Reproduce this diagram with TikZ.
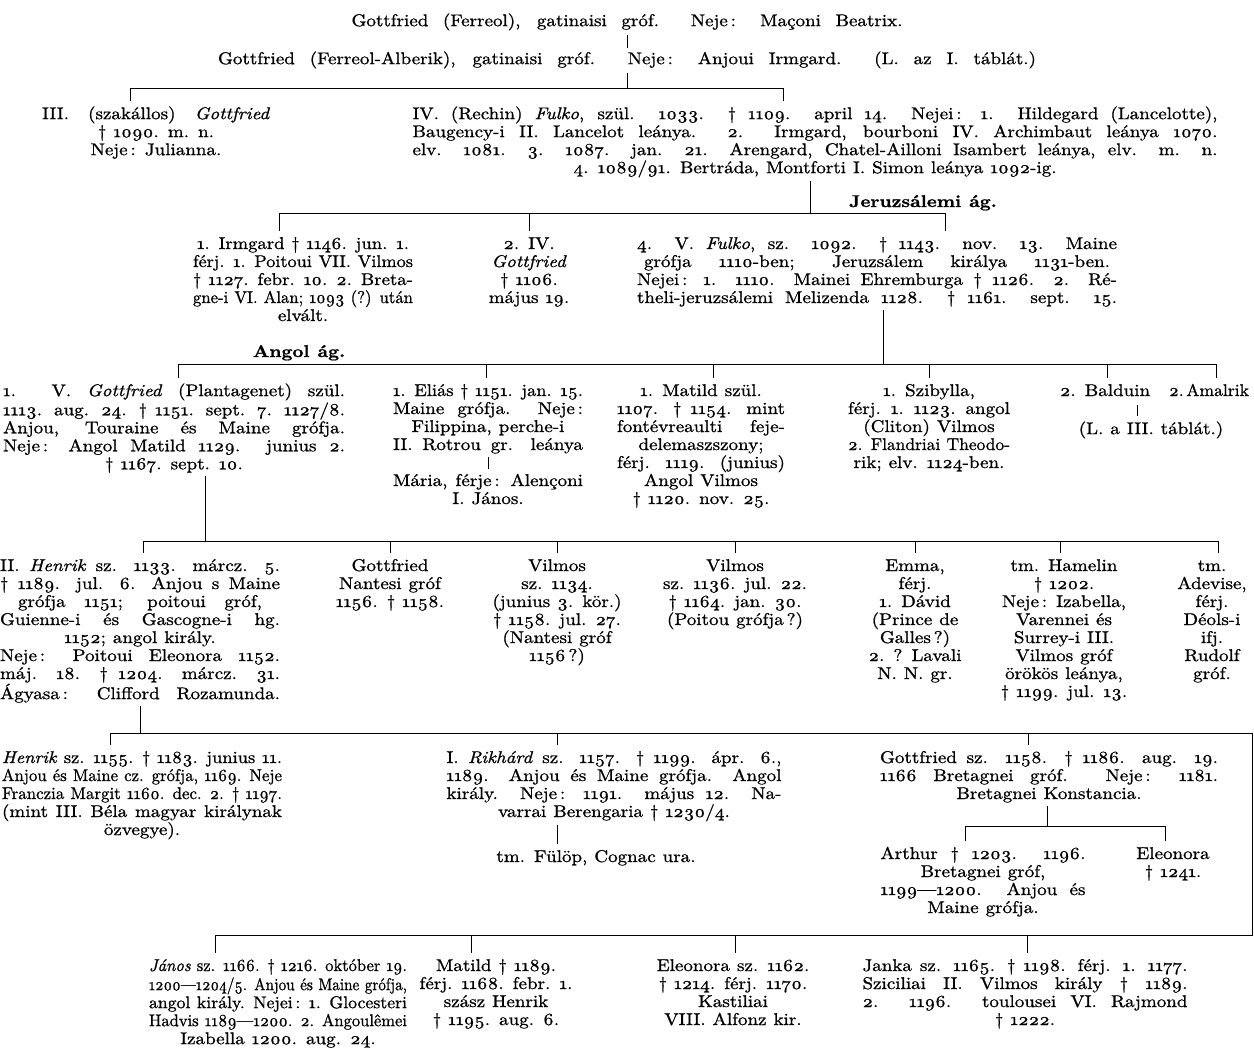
\documentclass[tikz,border=0pt]{standalone}
\usepackage{fontspec}
\usepackage{graphicx}
\setmainfont{lmroman10-regular.otf}[ItalicFont=lmroman10-italic.otf,BoldFont=lmroman10-bold.otf,BoldItalicFont=lmroman10-bolditalic.otf,Numbers=OldStyle,WordSpace=1.1,FakeStretch=1.12,FakeBold=1]
\newcommand\fs{\fontsize{17}{18}\selectfont}
\newsavebox\jlbox
\newcommand\jl[2]{\sbox\jlbox{#2}\ifdim\wd\jlbox>#1pt\relax\resizebox{#1pt}{\height}{\usebox\jlbox}\else\makebox[#1pt][s]{#2}\fi}
\begin{document}
\begin{tikzpicture}[x=1pt,y=-1pt,line width=0.8pt,
  blk/.style={align=center,inner sep=0pt,anchor=north,font=\fs},
  lbl/.style={inner sep=0pt,anchor=base,font=\fs\bfseries},
  tk/.style={shorten >=5pt},
  up/.style={shorten <=3pt}]
\fill[white] (0,0) rectangle (1254,1050);
\useasboundingbox (0,0) rectangle (1254,1050);

% ---- top
\node[blk] (g0) at (627,13) {\strut\jl{551}{Gottfried (Ferreol), gatinaisi gróf. Neje\,: Maçoni Beatrix.}};
\node[blk] (g1) at (627,51) {\strut\jl{818}{Gottfried (Ferreol-Alberik), gatinaisi gróf. Neje\,: Anjoui Irmgard. (L. az I. táblát.)}};
\draw[shorten <=3pt,shorten >=3pt] (g0.south) -- (g1.north);
\coordinate (j1) at (627,88);
\coordinate (a1) at (130,88);
\coordinate (b1) at (783,88);
\draw[up] (g1.south) -- (j1);
\draw (a1) -- (b1);

\node[blk] (n3) at (156,106) {\strut\jl{228}{III. (szakállos) \textit{Gottfried}}\\ † 1090. m. n.\\ Neje\,: Julianna.};
\node[blk] (n4) at (815,106) {\strut\jl{805}{IV. (Rechin) \textit{Fulko}, szül. 1033. † 1109. april 14. Nejei\,: 1. Hildegard (Lancelotte),}\\
\jl{805}{Baugency-i II. Lancelot leánya. 2. Irmgard, bourboni IV. Archimbaut leánya 1070.}\\
\jl{805}{elv. 1081. 3. 1087. jan. 21. Arengard, Chatel-Ailloni Isambert leánya, elv. m. n.}\\
4. 1089/91. Bertráda, Montforti I. Simon leánya 1092-ig.};
\draw[tk] (a1) -- (a1 |- n3.north);
\draw[tk] (b1) -- (b1 |- n4.north);

% ---- row 2
\coordinate (j2) at (810,213);
\coordinate (a2) at (279,213);
\coordinate (m2) at (529,213);
\coordinate (b2) at (945,213);
\draw[up] (j2 |- n4.south) -- (j2);
\draw (a2) -- (b2);
\node[lbl] (jer) at (923,207) {Jeruzsálemi ág.};

\node[blk] (irm) at (303,236) {\strut\jl{212}{1. Irmgard † 1146. jun. 1.}\\
\jl{220}{férj. 1. Poitoui VII. Vilmos}\\
\jl{220}{† 1127. febr. 10. 2. Breta-}\\
\jl{220}{gne-i VI. Alan; 1093 (?) után}\\
elvált.};
\node[blk] (g4) at (529,236) {\strut 2. IV.\\ \textit{Gottfried}\\ † 1106.\\ május 19.};
\node[blk] (fu5) at (877,236) {\strut\jl{480}{4. V. \textit{Fulko}, sz. 1092. † 1143. nov. 13. Maine}\\
\jl{466}{grófja 1110-ben; Jeruzsálem királya 1131-ben.}\\
\jl{480}{Nejei\,: 1. 1110. Mainei Ehremburga † 1126. 2. Ré-}\\
\jl{480}{theli-jeruzsálemi Melizenda 1128. † 1161. sept. 15.}};
\draw[tk] (a2) -- (a2 |- irm.north);
\draw[tk] (m2) -- (m2 |- g4.north);
\draw[tk] (b2) -- (b2 |- fu5.north);

% ---- row 3
\coordinate (j3) at (883,364);
\coordinate (a3) at (178,364);
\coordinate (e3) at (486,364);
\coordinate (f3) at (713,364);
\coordinate (s3) at (929,364);
\coordinate (h3) at (1107,364);
\coordinate (b3) at (1216,364);
\draw[up] (j3 |- fu5.south) -- (j3);
\draw (a3) -- (b3);
\node[lbl] (ang) at (299,357) {Angol ág.};

\node[blk] (gp) at (174,383) {\strut\jl{342}{1. V. \textit{Gottfried} (Plantagenet) szül.}\\
\jl{342}{1113. aug. 24. † 1151. sept. 7. 1127/8.}\\
\jl{342}{Anjou, Touraine és Maine grófja.}\\
\jl{342}{Neje\,: Angol Matild 1129. junius 2.}\\
† 1167. sept. 10.};
\node[blk] (el) at (488,383) {\strut\jl{190}{1. Eliás † 1151. jan. 15.}\\
\jl{190}{Maine grófja. Neje\,:}\\
Filippina, perche-i\\
\jl{190}{II. Rotrou gr. leánya}};
\node[blk] (ma) at (488,473) {\strut\jl{190}{Mária, férje\,: Alençoni}\\ I. János.};
\draw[shorten <=3pt,shorten >=4pt] (el.south) -- (ma.north);
\node[blk] (mt) at (701,383) {\strut 1. Matild szül.\\
\jl{168}{1107. † 1154. mint}\\
\jl{168}{fontévreaulti feje-}\\
delemaszszony;\\
\jl{168}{férj. 1119. (junius)}\\
Angol Vilmos\\
† 1120. nov. 25.};
\node[blk] (sz) at (929,383) {\strut 1. Szibylla,\\
\jl{162}{férj. 1. 1123. angol}\\
(Cliton) Vilmos\\
\jl{162}{2. Flandriai Theodo-}\\
rik; elv. 1124-ben.};
\node[blk] (ba) at (1105,383) {\strut 2. Balduin};
\node[blk] (am) at (1209,383) {\strut\jl{80}{2.\,Amalrik}};
\node[blk] (lt) at (1151,421) {\strut (L. a III. táblát.)};
\coordinate (lx) at (1137,364);
\draw[up,tk] (lx |- ba.south) -- (lx |- lt.north);
\draw[tk] (a3) -- (a3 |- gp.north);
\draw[tk] (e3) -- (e3 |- el.north);
\draw[tk] (f3) -- (f3 |- mt.north);
\draw[tk] (s3) -- (s3 |- sz.north);
\draw[tk] (h3) -- (h3 |- ba.north);
\draw[tk] (b3) -- (b3 |- am.north);

% ---- row 4
\coordinate (j4) at (205,541);
\coordinate (a4) at (143,541);
\coordinate (k4) at (390,541);
\coordinate (l4) at (557,541);
\coordinate (m4) at (735,541);
\coordinate (n4c) at (915,541);
\coordinate (o4) at (1060,541);
\coordinate (b4) at (1218,541);
\draw[up] (j4 |- gp.south) -- (j4);
\draw (a4) -- (b4);

\node[blk] (h2) at (140,558) {\strut\jl{280}{II. \textit{Henrik} sz. 1133. márcz. 5.}\\
\jl{280}{† 1189. jul. 6. Anjou s Maine}\\
\jl{244}{grófja 1151; poitoui gróf,}\\
\jl{280}{Guienne-i és Gascogne-i hg.}\\
1152; angol király.\\
\jl{280}{Neje\,: Poitoui Eleonora 1152.}\\
\jl{280}{máj. 18. † 1204. márcz. 31.}\\
\jl{280}{Ágyasa\,: Clifford Rozamunda.}};
\node[blk] (gn) at (390,558) {\strut Gottfried\\ Nantesi gróf\\ 1156. † 1158.};
\node[blk] (v1) at (557,558) {\strut Vilmos\\ sz. 1134.\\ (junius 3. kör.)\\ † 1158. jul. 27.\\ (Nantesi gróf\\ 1156\,?)};
\node[blk] (v2) at (735,558) {\strut Vilmos\\ sz. 1136. jul. 22.\\ † 1164. jan. 30.\\ (Poitou grófja\,?)};
\node[blk] (em) at (915,558) {\strut Emma,\\ férj.\\ 1. Dávid\\ (Prince de\\ Galles\,?)\\ 2. ? Lavali\\ N. N. gr.};
\node[blk] (ha) at (1064,558) {\strut tm. Hamelin\\ † 1202.\\ Neje\,: Izabella,\\ Varennei és\\ Surrey-i III.\\ Vilmos gróf\\ örökös leánya,\\ † 1199. jul. 13.};
\node[blk] (ad) at (1212,558) {\strut tm.\\ Adevise,\\ férj.\\ Déols-i\\ ifj.\\ Rudolf\\ gróf.};
\draw[tk] (a4) -- (a4 |- h2.north);
\draw[tk] (k4) -- (k4 |- gn.north);
\draw[tk] (l4) -- (l4 |- v1.north);
\draw[tk] (m4) -- (m4 |- v2.north);
\draw[tk] (n4c) -- (n4c |- em.north);
\draw[tk] (o4) -- (o4 |- ha.north);
\draw[tk] (b4) -- (b4 |- ad.north);

% ---- row 5
\coordinate (j5) at (140,733);
\coordinate (a5) at (110,733);
\coordinate (r5) at (557,733);
\coordinate (s5) at (1028,733);
\coordinate (c5) at (1252,733);
\coordinate (c6) at (1252,935);
\coordinate (a6) at (215,935);
\draw[up] (j5 |- h2.south) -- (j5);
\draw (a5) -- (c5) -- (c6) -- (a6);

\node[blk] (hy) at (142,750) {\strut\jl{280}{\textit{Henrik} sz. 1155. † 1183. junius 11.}\\
\jl{280}{Anjou és Maine cz. grófja, 1169. Neje}\\
\jl{280}{Franczia Margit 1160. dec. 2. † 1197.}\\
\jl{280}{(mint III. Béla magyar királynak}\\
özvegye).};
\node[blk] (ri) at (614,750) {\strut\jl{335}{I. \textit{Rikhárd} sz. 1157. † 1199. ápr. 6.,}\\
\jl{335}{1189. Anjou és Maine grófja. Angol}\\
\jl{335}{király. Neje\,: 1191. május 12. Na-}\\
varrai Berengaria † 1230/4.};
\node[blk] (fl) at (596,849) {\strut tm. Fülöp, Cognac ura.};
\coordinate (fx) at (557,800);
\draw[up,tk] (fx |- ri.south) -- (fx |- fl.north);
\node[blk] (gb) at (1049,750) {\strut\jl{338}{Gottfried sz. 1158. † 1186. aug. 19.}\\
\jl{338}{1166 Bretagnei gróf. Neje\,: 1181.}\\
Bretagnei Konstancia.};
\draw[tk] (a5) -- (a5 |- hy.north);
\draw[tk] (r5) -- (r5 |- ri.north);
\draw[tk] (s5) -- (s5 |- gb.north);

\coordinate (j7) at (1047,826);
\coordinate (a7) at (965,826);
\coordinate (b7) at (1165,826);
\draw[up] (j7 |- gb.south) -- (j7);
\draw (a7) -- (b7);
\node[blk] (ar) at (983,846) {\strut\jl{205}{Arthur † 1203. 1196.}\\ Bretagnei gróf,\\ \jl{205}{1199—1200. Anjou és}\\ Maine grófja.};
\node[blk] (eb) at (1173,846) {\strut Eleonora\\ † 1241.};
\draw[tk] (a7) -- (a7 |- ar.north);
\draw[tk] (b7) -- (b7 |- eb.north);

% ---- row 6
\coordinate (w6) at (471,935);
\coordinate (x6) at (735,935);
\coordinate (y6) at (1027,935);
\node[blk] (ja) at (278,958) {\strut\jl{258}{\textit{János} sz. 1166. † 1216. október 19.}\\
\jl{258}{1200—1204/5. Anjou és Maine grófja,}\\
\jl{258}{angol király. Nejei\,: 1. Glocesteri}\\
\jl{258}{Hadvis 1189—1200. 2. Angoulêmei}\\
Izabella 1200. aug. 24.};
\node[blk] (mk) at (496,958) {\strut Matild † 1189.\\ férj. 1168. febr. 1.\\ szász Henrik\\ † 1195. aug. 6.};
\node[blk] (ek) at (733,958) {\strut Eleonora sz. 1162.\\ † 1214. férj. 1170.\\ Kastiliai\\ VIII. Alfonz kir.};
\node[blk] (jk) at (1025,958) {\strut\jl{325}{Janka sz. 1165. † 1198. férj. 1. 1177.}\\
\jl{325}{Sziciliai II. Vilmos király † 1189.}\\
\jl{325}{2. 1196. toulousei VI. Rajmond}\\
† 1222.};
\draw[tk] (a6) -- (a6 |- ja.north);
\draw[tk] (w6) -- (w6 |- mk.north);
\draw[tk] (x6) -- (x6 |- ek.north);
\draw[tk] (y6) -- (y6 |- jk.north);
\end{tikzpicture}
\end{document}
